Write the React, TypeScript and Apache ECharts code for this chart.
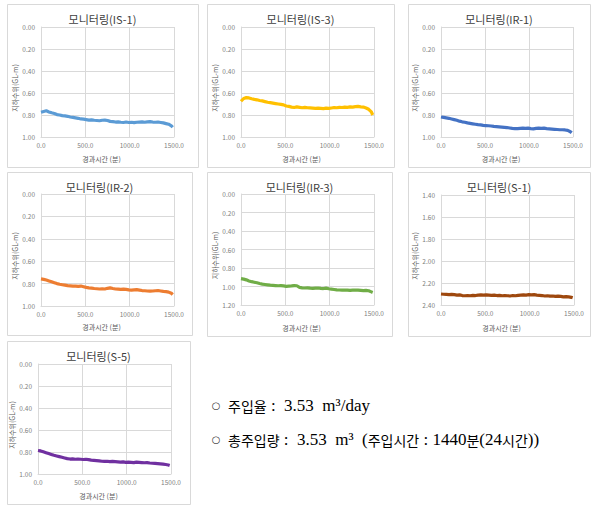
import React, { useEffect, useRef } from "react";
import * as echarts from "echarts";

// elapsed time (minutes)
const minutes = [
  0, 30, 60, 90, 120, 150, 180, 210, 240, 270, 300, 330, 360, 390, 420, 450, 480, 510, 540, 570,
  600, 630, 660, 690, 720, 750, 780, 810, 840, 870, 900, 930, 960, 990, 1020, 1050, 1080, 1110,
  1140, 1170, 1200, 1230, 1260, 1290, 1320, 1350, 1380, 1410, 1440, 1470, 1485,
];

// groundwater level (GL-m)
const is1 = [
  0.775, 0.768, 0.762, 0.772, 0.78, 0.786, 0.796, 0.8, 0.806, 0.808, 0.812, 0.818, 0.822, 0.826,
  0.83, 0.836, 0.838, 0.842, 0.846, 0.844, 0.848, 0.85, 0.852, 0.848, 0.846, 0.85, 0.858, 0.86,
  0.864, 0.862, 0.866, 0.868, 0.864, 0.868, 0.866, 0.87, 0.866, 0.864, 0.862, 0.866, 0.862, 0.86,
  0.864, 0.866, 0.864, 0.868, 0.872, 0.878, 0.884, 0.898, 0.912,
];
const is3 = [
  0.675, 0.65, 0.642, 0.645, 0.652, 0.658, 0.662, 0.668, 0.672, 0.678, 0.684, 0.688, 0.692, 0.696,
  0.7, 0.704, 0.708, 0.718, 0.722, 0.728, 0.732, 0.726, 0.73, 0.734, 0.73, 0.734, 0.736, 0.738,
  0.74, 0.738, 0.74, 0.742, 0.738, 0.74, 0.736, 0.732, 0.734, 0.73, 0.732, 0.728, 0.73, 0.726,
  0.728, 0.724, 0.722, 0.726, 0.728, 0.736, 0.748, 0.772, 0.8,
];
const ir1 = [
  0.818, 0.822, 0.826, 0.83, 0.836, 0.842, 0.848, 0.856, 0.862, 0.866, 0.872, 0.876, 0.88, 0.884,
  0.888, 0.89, 0.894, 0.896, 0.898, 0.9, 0.904, 0.906, 0.908, 0.91, 0.912, 0.914, 0.918, 0.922,
  0.924, 0.924, 0.922, 0.92, 0.922, 0.92, 0.924, 0.926, 0.922, 0.92, 0.922, 0.92, 0.924, 0.926,
  0.928, 0.93, 0.932, 0.934, 0.934, 0.936, 0.94, 0.952, 0.962,
];
const ir2 = [
  0.758, 0.762, 0.768, 0.776, 0.784, 0.792, 0.8, 0.806, 0.81, 0.814, 0.818, 0.82, 0.822, 0.822,
  0.824, 0.822, 0.828, 0.834, 0.838, 0.84, 0.844, 0.846, 0.848, 0.846, 0.848, 0.842, 0.838, 0.844,
  0.848, 0.85, 0.852, 0.85, 0.852, 0.856, 0.858, 0.856, 0.854, 0.858, 0.862, 0.864, 0.866, 0.868,
  0.866, 0.864, 0.862, 0.866, 0.87, 0.872, 0.876, 0.886, 0.898,
];
const ir3 = [
  0.915, 0.92, 0.928, 0.94, 0.948, 0.954, 0.96, 0.968, 0.974, 0.978, 0.982, 0.986, 0.988, 0.99,
  0.992, 0.99, 0.994, 0.998, 0.996, 0.994, 0.99, 0.992, 1.01, 1.014, 1.016, 1.014, 1.018, 1.02,
  1.018, 1.016, 1.02, 1.022, 1.018, 1.024, 1.028, 1.032, 1.036, 1.038, 1.04, 1.038, 1.04, 1.042,
  1.04, 1.038, 1.04, 1.042, 1.044, 1.042, 1.046, 1.058, 1.064,
];
const s1 = [
  2.3, 2.302, 2.304, 2.306, 2.304, 2.306, 2.31, 2.308, 2.314, 2.316, 2.314, 2.316, 2.312, 2.314,
  2.31, 2.308, 2.31, 2.308, 2.31, 2.312, 2.31, 2.314, 2.312, 2.316, 2.314, 2.316, 2.318, 2.314,
  2.316, 2.312, 2.31, 2.308, 2.31, 2.306, 2.308, 2.306, 2.31, 2.312, 2.314, 2.318, 2.316, 2.32,
  2.318, 2.322, 2.32, 2.322, 2.326, 2.324, 2.326, 2.33, 2.334,
];
const s5 = [
  0.786, 0.79, 0.798, 0.806, 0.814, 0.822, 0.83, 0.836, 0.842, 0.848, 0.854, 0.86, 0.864, 0.862,
  0.866, 0.864, 0.866, 0.868, 0.866, 0.87, 0.874, 0.876, 0.878, 0.88, 0.884, 0.886, 0.884, 0.888,
  0.886, 0.888, 0.89, 0.892, 0.89, 0.894, 0.892, 0.894, 0.896, 0.892, 0.894, 0.896, 0.898, 0.896,
  0.9, 0.902, 0.904, 0.906, 0.908, 0.91, 0.914, 0.918, 0.922,
];

const panelTitles = [
  "모니터링(IS-1)",
  "모니터링(IS-3)",
  "모니터링(IR-1)",
  "모니터링(IR-2)",
  "모니터링(IR-3)",
  "모니터링(S-1)",
  "모니터링(S-5)",
];
const panelValues = [is1, is3, ir1, ir2, ir3, s1, s5];
const yRanges = [
  [0, 1],
  [0, 1],
  [0, 1],
  [0, 1],
  [0, 1.2],
  [1.4, 2.4],
  [0, 1],
];
const xMax = 1500;
const xStep = 500;
const yStep = 0.2;
const xAxisTitle = "경과시간 (분)";
const yAxisTitle = "지하수위(GL-m)";
const bullet = "○";
// note lines: [style, text] segments (h = hangul, l = latin)
const noteLine1 = [
  ["h", "주입율"],
  ["l", " :  3.53  m³/day"],
];
const noteLine2 = [
  ["h", "총주입량"],
  ["l", " :  3.53  m³  ("],
  ["h", "주입시간"],
  ["l", " : 1440"],
  ["h", "분"],
  ["l", "(24"],
  ["h", "시간"],
  ["l", "))"],
];
const noteLines = [noteLine1, noteLine2];

// layout (positions and styles only)
const colors = ["#5B9BD5", "#FFC000", "#4472C4", "#ED7D31", "#70AD47", "#9E480E", "#7030A0"];
const boxes = [
  [7, 4, 191, 163],
  [207, 4, 187, 163],
  [408, 4, 182, 163],
  [7, 172, 185, 163],
  [207, 172, 185, 164],
  [408, 172, 182, 164],
  [7, 341, 183, 163],
];
const plots = [
  [41, 27, 133, 110],
  [241, 27, 133, 110],
  [441, 27, 132, 110],
  [41, 194, 133, 112],
  [241, 194, 133, 111],
  [441, 195, 133, 110],
  [38, 364, 133, 110],
];

const CJK = "'Noto Sans CJK KR', 'Noto Sans', sans-serif";
const GRID = "#D9D9D9";

export default function App() {
  const ref = useRef<HTMLDivElement>(null);
  useEffect(() => {
    if (!ref.current) return;
    const chart = echarts.init(ref.current, undefined, { renderer: "svg" });
    const grid: any[] = [];
    const xAxis: any[] = [];
    const yAxis: any[] = [];
    const series: any[] = [];
    const graphic: any[] = [];

    boxes.forEach((b) => {
      graphic.push({
        type: "rect",
        z: -10,
        shape: { x: b[0] + 0.5, y: b[1] + 0.5, width: b[2], height: b[3] },
        style: { fill: "#fff", stroke: GRID, lineWidth: 1 },
      });
    });

    panelTitles.forEach((name, i) => {
      const b = boxes[i];
      const p = plots[i];
      grid.push({ left: p[0], top: p[1], width: p[2], height: p[3], containLabel: false });
      xAxis.push({
        type: "value",
        gridIndex: i,
        min: 0,
        max: xMax,
        interval: xStep,
        axisLine: { show: true, onZero: false, lineStyle: { color: GRID } },
        axisTick: { show: false },
        splitLine: { show: true, lineStyle: { color: GRID, width: 1 } },
        axisLabel: {
          margin: 5,
          fontSize: 6.5,
          color: "#808080",
          fontFamily: CJK,
          showMaxLabel: true,
          showMinLabel: true,
          formatter: (v: number) => v.toFixed(1),
        },
      });
      yAxis.push({
        type: "value",
        gridIndex: i,
        inverse: true,
        min: yRanges[i][0],
        max: yRanges[i][1],
        interval: yStep,
        axisLine: { show: true, lineStyle: { color: GRID } },
        axisTick: { show: false },
        splitLine: { show: true, lineStyle: { color: GRID, width: 1 } },
        axisLabel: {
          margin: 6,
          fontSize: 6.5,
          color: "#808080",
          fontFamily: CJK,
          formatter: (v: number) => v.toFixed(2),
        },
      });
      series.push({
        type: "line",
        xAxisIndex: i,
        yAxisIndex: i,
        data: minutes.map((m, k) => [m, panelValues[i][k]]),
        showSymbol: false,
        symbol: "none",
        lineStyle: { color: colors[i], width: 3.2 },
        itemStyle: { color: colors[i] },
      });
      graphic.push({
        type: "text",
        x: b[0] + b[2] / 2,
        y: b[1] + 15,
        style: {
          text: name,
          fontSize: 11,
          fontFamily: CJK,
          fill: "#404040",
          align: "center",
          verticalAlign: "middle",
        },
      });
      graphic.push({
        type: "text",
        x: p[0] + p[2] / 2 - 6,
        y: b[1] + b[3] - 8,
        style: {
          text: xAxisTitle,
          fontSize: 7,
          fontFamily: CJK,
          fill: "#595959",
          align: "center",
          verticalAlign: "middle",
        },
      });
      graphic.push({
        type: "text",
        x: p[0] - 26,
        y: p[1] + p[3] / 2 + 6,
        rotation: Math.PI / 2,
        style: {
          text: yAxisTitle,
          fontSize: 7,
          fontFamily: CJK,
          fill: "#595959",
          align: "center",
          verticalAlign: "middle",
        },
      });
    });

    const rich = {
      h: {
        fontSize: 14,
        fontFamily: "'Noto Sans CJK KR', sans-serif",
        color: "#1a1a1a",
        verticalAlign: "middle",
      },
      l: {
        fontSize: 17,
        fontFamily: "'Liberation Serif', 'DejaVu Serif', serif",
        color: "#1a1a1a",
        verticalAlign: "middle",
      },
    };
    noteLines.forEach((segs, i) => {
      const y = 405.5 + i * 34;
      graphic.push({
        type: "text",
        x: 216,
        y,
        style: {
          text: bullet,
          fontSize: 10,
          fontFamily: "'DejaVu Sans', sans-serif",
          fill: "#333",
          align: "center",
          verticalAlign: "middle",
        },
      });
      graphic.push({
        type: "text",
        x: 228,
        y,
        style: {
          text: segs.map((s) => `{${s[0]}|${s[1]}}`).join(""),
          rich,
          align: "left",
          verticalAlign: "middle",
        },
      });
    });

    chart.setOption({
      animation: false,
      backgroundColor: "#fff",
      grid,
      xAxis,
      yAxis,
      series,
      graphic,
    });
    return () => chart.dispose();
  }, []);
  return (
    <div
      ref={ref}
      style={{ position: "absolute", left: 0, top: 0, width: 601, height: 512, background: "#fff" }}
    />
  );
}
